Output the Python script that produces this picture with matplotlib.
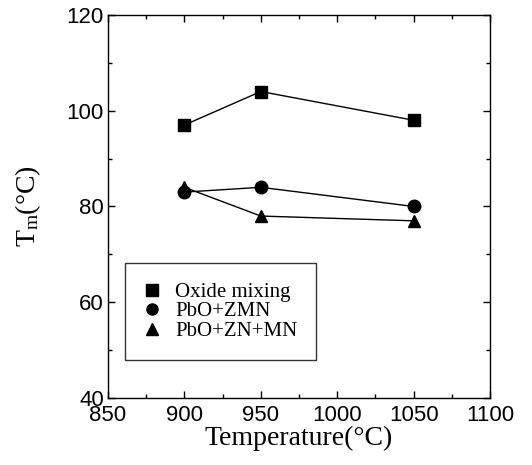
import matplotlib
matplotlib.use("Agg")
import matplotlib.pyplot as plt
from matplotlib.ticker import MultipleLocator

plt.rcParams['mathtext.fontset'] = 'custom'
plt.rcParams['mathtext.rm'] = 'Liberation Serif'
plt.rcParams['mathtext.it'] = 'Liberation Serif:italic'

# data
temperature = [900, 950, 1050]
oxide_mixing = [97, 104, 98]
pbo_zmn = [83, 84, 80]
pbo_zn_mn = [84, 78, 77]

serif = 'Liberation Serif'
sans = 'Liberation Sans'

fig = plt.figure(figsize=(5.32, 4.65), dpi=100)
ax = fig.add_axes([0.203, 0.144, 0.718, 0.824])

ax.plot(temperature, oxide_mixing, color='black', lw=1, marker='s', ms=9,
        label='Oxide mixing')
ax.plot(temperature, pbo_zmn, color='black', lw=1, marker='o', ms=9,
        label='PbO+ZMN')
ax.plot(temperature, pbo_zn_mn, color='black', lw=1, marker='^', ms=9,
        label='PbO+ZN+MN')

ax.set_xlim(850, 1100)
ax.set_ylim(40, 120)
ax.xaxis.set_major_locator(MultipleLocator(50))
ax.xaxis.set_minor_locator(MultipleLocator(25))
ax.yaxis.set_major_locator(MultipleLocator(20))
ax.yaxis.set_minor_locator(MultipleLocator(10))
ax.tick_params(which='both', direction='in', top=True, right=True,
               width=1)
ax.tick_params(which='major', length=5, labelsize=16)
ax.tick_params(axis='x', which='major', pad=5)
ax.tick_params(axis='y', which='major', pad=3)
ax.tick_params(which='minor', length=3)
for lab in ax.get_xticklabels() + ax.get_yticklabels():
    lab.set_fontfamily(sans)
for sp in ax.spines.values():
    sp.set_linewidth(1)

ax.set_xlabel('Temperature(°C)', fontfamily=serif, fontsize=20, labelpad=0)
ax.set_ylabel(r'$\mathrm{T_m}$(°C)', fontfamily=serif, fontsize=20, labelpad=17)

handles, labels = ax.get_legend_handles_labels()
leg = ax.legend([plt.Line2D([], [], ls='', marker=h.get_marker(), color='black', ms=8)
                 for h in handles], labels,
                loc='lower left', bbox_to_anchor=(0.045, 0.10),
                prop={'family': serif, 'size': 15}, frameon=True,
                fancybox=False, edgecolor='black', handletextpad=0.7,
                labelspacing=0.0, borderpad=0.9, handlelength=0.8,
                borderaxespad=0)
leg.get_frame().set_linewidth(1)

fig.savefig('out.png', dpi=100)
